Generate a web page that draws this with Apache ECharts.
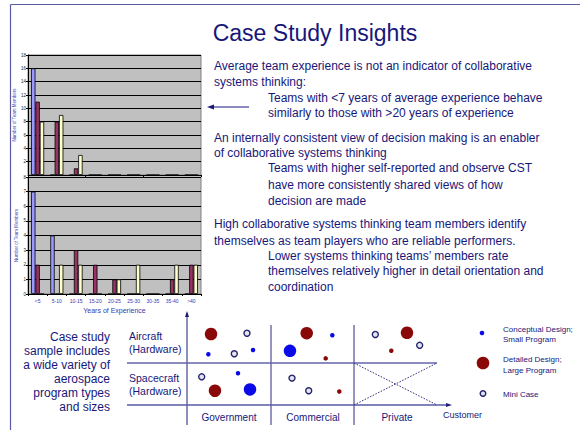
<!DOCTYPE html>
<html><head><meta charset="utf-8">
<script src="https://cdn.jsdelivr.net/npm/echarts@6/dist/echarts.min.js"></script>
<style>html,body{margin:0;padding:0;background:#fff}#c{width:580px;height:430px}</style>
</head><body><div id="c"></div>
<script>
// ---------- data ----------
const categories = ['<5','5-10','10-15','15-20','20-25','25-30','30-35','35-40','>40'];
const topBlue   = [16,0,0,0,0,0,0,0,0];
const topMaroon = [11,8,1,0,0,0,0,0,0];
const topYellow = [8,9,3,0,0,0,0,0,0];
const botBlue   = [7,4,0,0,0,0,0,0,0];
const botMaroon = [2,0,3,2,1,0,0,1,2];
const botYellow = [0,2,2,0,1,2,0,2,2];
const topTicks = [0,2,4,6,8,10,12,14,16,18];
const botTicks = [0,1,2,3,4,5,6,7,8];

const customers = ['Government','Commercial','Private'];
const programRows = ['Spacecraft\n(Hardware)','Aircraft\n(Hardware)'];
// [customer position, row position, program size]
const conceptual = [[0.254,1.21,'S'],[0.786,1.31,'S'],[1.73,1.66,'S'],[1.226,1.29,'L'],[0.607,0.755,'S'],[0.75,0.37,'L']];
const detailed   = [[0.286,1.69,'L'],[1.425,1.71,'L'],[1.651,1.11,'S'],[2.619,1.72,'L'],[2.432,1.29,'S'],[0.333,0.34,'L'],[1.813,0.32,'S']];
const miniCase   = [[0.714,1.71],[0.563,1.22],[2.242,1.68],[2.77,1.42],[0.175,0.67],[1.25,0.64],[1.449,0.34]];

const titleText = 'Case Study Insights';
const insightLines = [
  ['Average team experience is not an indicator of collaborative',214,66],
  ['systems thinking:',214,82],
  ['Teams with <7 years of average experience behave',268,98],
  ['similarly to those with >20 years of experience',268,113],
  ['An internally consistent view of decision making is an enabler',214,138],
  ['of collaborative systems thinking',214,153],
  ['Teams with higher self-reported and observe CST',268,168],
  ['have more consistently shared views of how',268,185],
  ['decision are made',268,201],
  ['High collaborative systems thinking team members identify',214,224],
  ['themselves as team players who are reliable performers.',214,241],
  ['Lower systems thinking teams\u2019 members rate',268,256],
  ['themselves relatively higher in detail orientation and',268,271],
  ['coordination',268,287]
];
const sampleLines = ['Case study','sample includes','a wide variety of','aerospace','program types','and sizes'];
const legendLabels = [['Conceptual Design;','Small Program'],['Detailed Design;','Large Program'],['Mini Case']];

// ---------- styles ----------
const NAVY = '#17177a';
const FONT = '"Liberation Sans", Arial, sans-serif';
const C_BLUE = '#9999ff', C_MAROON = '#993366', C_YELLOW = '#ffffcc';
const P_BLUE = '#0a0ae8', P_RED = '#8a0808';

const chart = echarts.init(document.getElementById('c'), null, {renderer:'svg'});

function barY(gi, ticks, hideMin){
  return {
    type:'value', gridIndex:gi, position:'left', min:ticks[0], max:ticks[ticks.length-1], interval:ticks[1]-ticks[0],
    axisLine:{show:true,lineStyle:{color:'#000',width:1}},
    axisTick:{show:true,length:2,lineStyle:{color:'#000'}},
    axisLabel:{fontSize:4.5,color:'#222',margin:2,fontFamily:FONT,showMinLabel:!hideMin},
    splitLine:{show:true,lineStyle:{color:'#000',width:1}},
    name:'Number of Team Members', nameLocation:'middle', nameGap:9,
    nameTextStyle:{fontSize:4.5,color:'#4444bb',fontFamily:FONT}
  };
}
function barSeries(name, data, color, ax){
  return {type:'bar', name, data, xAxisIndex:ax, yAxisIndex:ax, barGap:'0%', barCategoryGap:'32%',
    itemStyle:{color, borderColor:'#000', borderWidth:0.8}, silent:true, animation:false};
}
function pointSize(p){ return p[2]==='L' ? 12.5 : 4.5; }

const g = [];
const line = (x1,y1,x2,y2,stroke,w,dash)=>g.push({type:'line',silent:true,shape:{x1,y1,x2,y2},style:{stroke,lineWidth:w,lineDash:dash||null}});
const txt = (text,x,y,size,align,fill)=>g.push({type:'text',silent:true,x,y,style:{text,fill:fill||NAVY,font:size+'px '+FONT,align:align||'left',verticalAlign:'middle'}});

// slide frame
line(10.5,4.5,580,4.5,'#5a5aa6',1.2);
line(10.5,4.5,10.5,430,'#5a5aa6',1.2);
// title
txt(titleText,315,33,23,'center');
// insights
insightLines.forEach(l=>txt(l[0],l[1],l[2],12));
// arrow
line(213,107,249,107,NAVY,1);
g.push({type:'polygon',silent:true,shape:{points:[[207,107],[214,104.6],[214,109.4]]},style:{fill:NAVY}});
// sample text
sampleLines.forEach((s,i)=>txt(s,110,337+i*14,12,'right'));
// matrix lines
line(187,313,187,425,'#1e1e78',1);
g.push({type:'polygon',silent:true,shape:{points:[[187,311],[185,317],[189,317]]},style:{fill:'#1e1e78'}});
line(271,325,271,425,'#2a2a80',1);
line(354,325,354,425,'#2a2a80',1);
line(127,363,437,363,'#6464aa',1.5);
line(127,405,448,405,'#5a5aa6',1.5);
g.push({type:'polygon',silent:true,shape:{points:[[452,405],[446,403],[446,407]]},style:{fill:'#1e1e78'}});
line(354,363,437,405,'#2a2a80',1,[1.5,1.5]);
line(354,405,437,363,'#2a2a80',1,[1.5,1.5]);
txt('Customer',443,415,9,'left');
// legend
g.push({type:'circle',silent:true,shape:{cx:482,cy:333,r:2.3},style:{fill:P_BLUE}});
g.push({type:'circle',silent:true,shape:{cx:483,cy:363,r:6.3},style:{fill:P_RED}});
g.push({type:'circle',silent:true,shape:{cx:483,cy:393.5,r:2.8},style:{fill:'#e4e4ee',stroke:'#22226e',lineWidth:1.4}});
txt(legendLabels[0][0],503,329,8); txt(legendLabels[0][1],503,339.5,8);
txt(legendLabels[1][0],503,359,8); txt(legendLabels[1][1],503,370,8);
txt(legendLabels[2][0],503,394,8);

const option = {
  animation:false,
  backgroundColor:'#fff',
  grid:[
    {left:28,top:55,width:173,height:120,show:true,backgroundColor:'#c0c0c0',borderColor:'#808080',borderWidth:1},
    {left:28,top:177,width:173,height:117,show:true,backgroundColor:'#c0c0c0',borderColor:'#808080',borderWidth:1},
    {left:187,top:321,width:252,height:84,show:false}
  ],
  xAxis:[
    {type:'category',gridIndex:0,position:'bottom',data:categories,axisLine:{lineStyle:{color:'#000'}},axisTick:{show:true,length:2,lineStyle:{color:'#000'}},axisLabel:{show:false}},
    {type:'category',gridIndex:1,position:'bottom',data:categories,axisLine:{lineStyle:{color:'#000'}},axisTick:{show:true,length:2,lineStyle:{color:'#000'}},
      axisLabel:{fontSize:5,color:'#3838b0',margin:4,fontFamily:FONT,interval:0},
      name:'Years of Experience',nameLocation:'middle',nameGap:13,nameTextStyle:{fontSize:7,color:'#3838b0',fontFamily:FONT}},
    {type:'value',gridIndex:2,position:'bottom',min:0,max:customers.length,show:false},
    {type:'category',gridIndex:2,position:'bottom',offset:0,data:customers,axisLine:{show:false},axisTick:{show:false},splitLine:{show:false},
      axisLabel:{fontSize:10,color:NAVY,margin:7,fontFamily:FONT}}
  ],
  yAxis:[
    barY(0,topTicks,true),
    barY(1,botTicks,false),
    {type:'value',gridIndex:2,position:'left',min:0,max:programRows.length,show:false},
    {type:'category',gridIndex:2,position:'left',offset:0,data:programRows,axisLine:{show:false},axisTick:{show:false},splitLine:{show:false},
      axisLabel:{fontSize:10.5,color:NAVY,margin:58,align:'left',fontFamily:FONT,lineHeight:13}}
  ],
  series:[
    barSeries('blue',topBlue,C_BLUE,0),
    barSeries('maroon',topMaroon,C_MAROON,0),
    barSeries('yellow',topYellow,C_YELLOW,0),
    barSeries('blue',botBlue,C_BLUE,1),
    barSeries('maroon',botMaroon,C_MAROON,1),
    barSeries('yellow',botYellow,C_YELLOW,1),
    {type:'scatter',name:'Conceptual Design',xAxisIndex:2,yAxisIndex:2,data:conceptual,symbolSize:pointSize,itemStyle:{color:P_BLUE,opacity:1},silent:true},
    {type:'scatter',name:'Detailed Design',xAxisIndex:2,yAxisIndex:2,data:detailed,symbolSize:pointSize,itemStyle:{color:P_RED,opacity:1},silent:true},
    {type:'scatter',name:'Mini Case',xAxisIndex:2,yAxisIndex:2,data:miniCase,symbolSize:6,itemStyle:{color:'#e4e4ee',borderColor:'#22226e',borderWidth:1.4,opacity:1},silent:true}
  ],
  graphic:g
};
chart.setOption(option);
</script>
</body></html>
